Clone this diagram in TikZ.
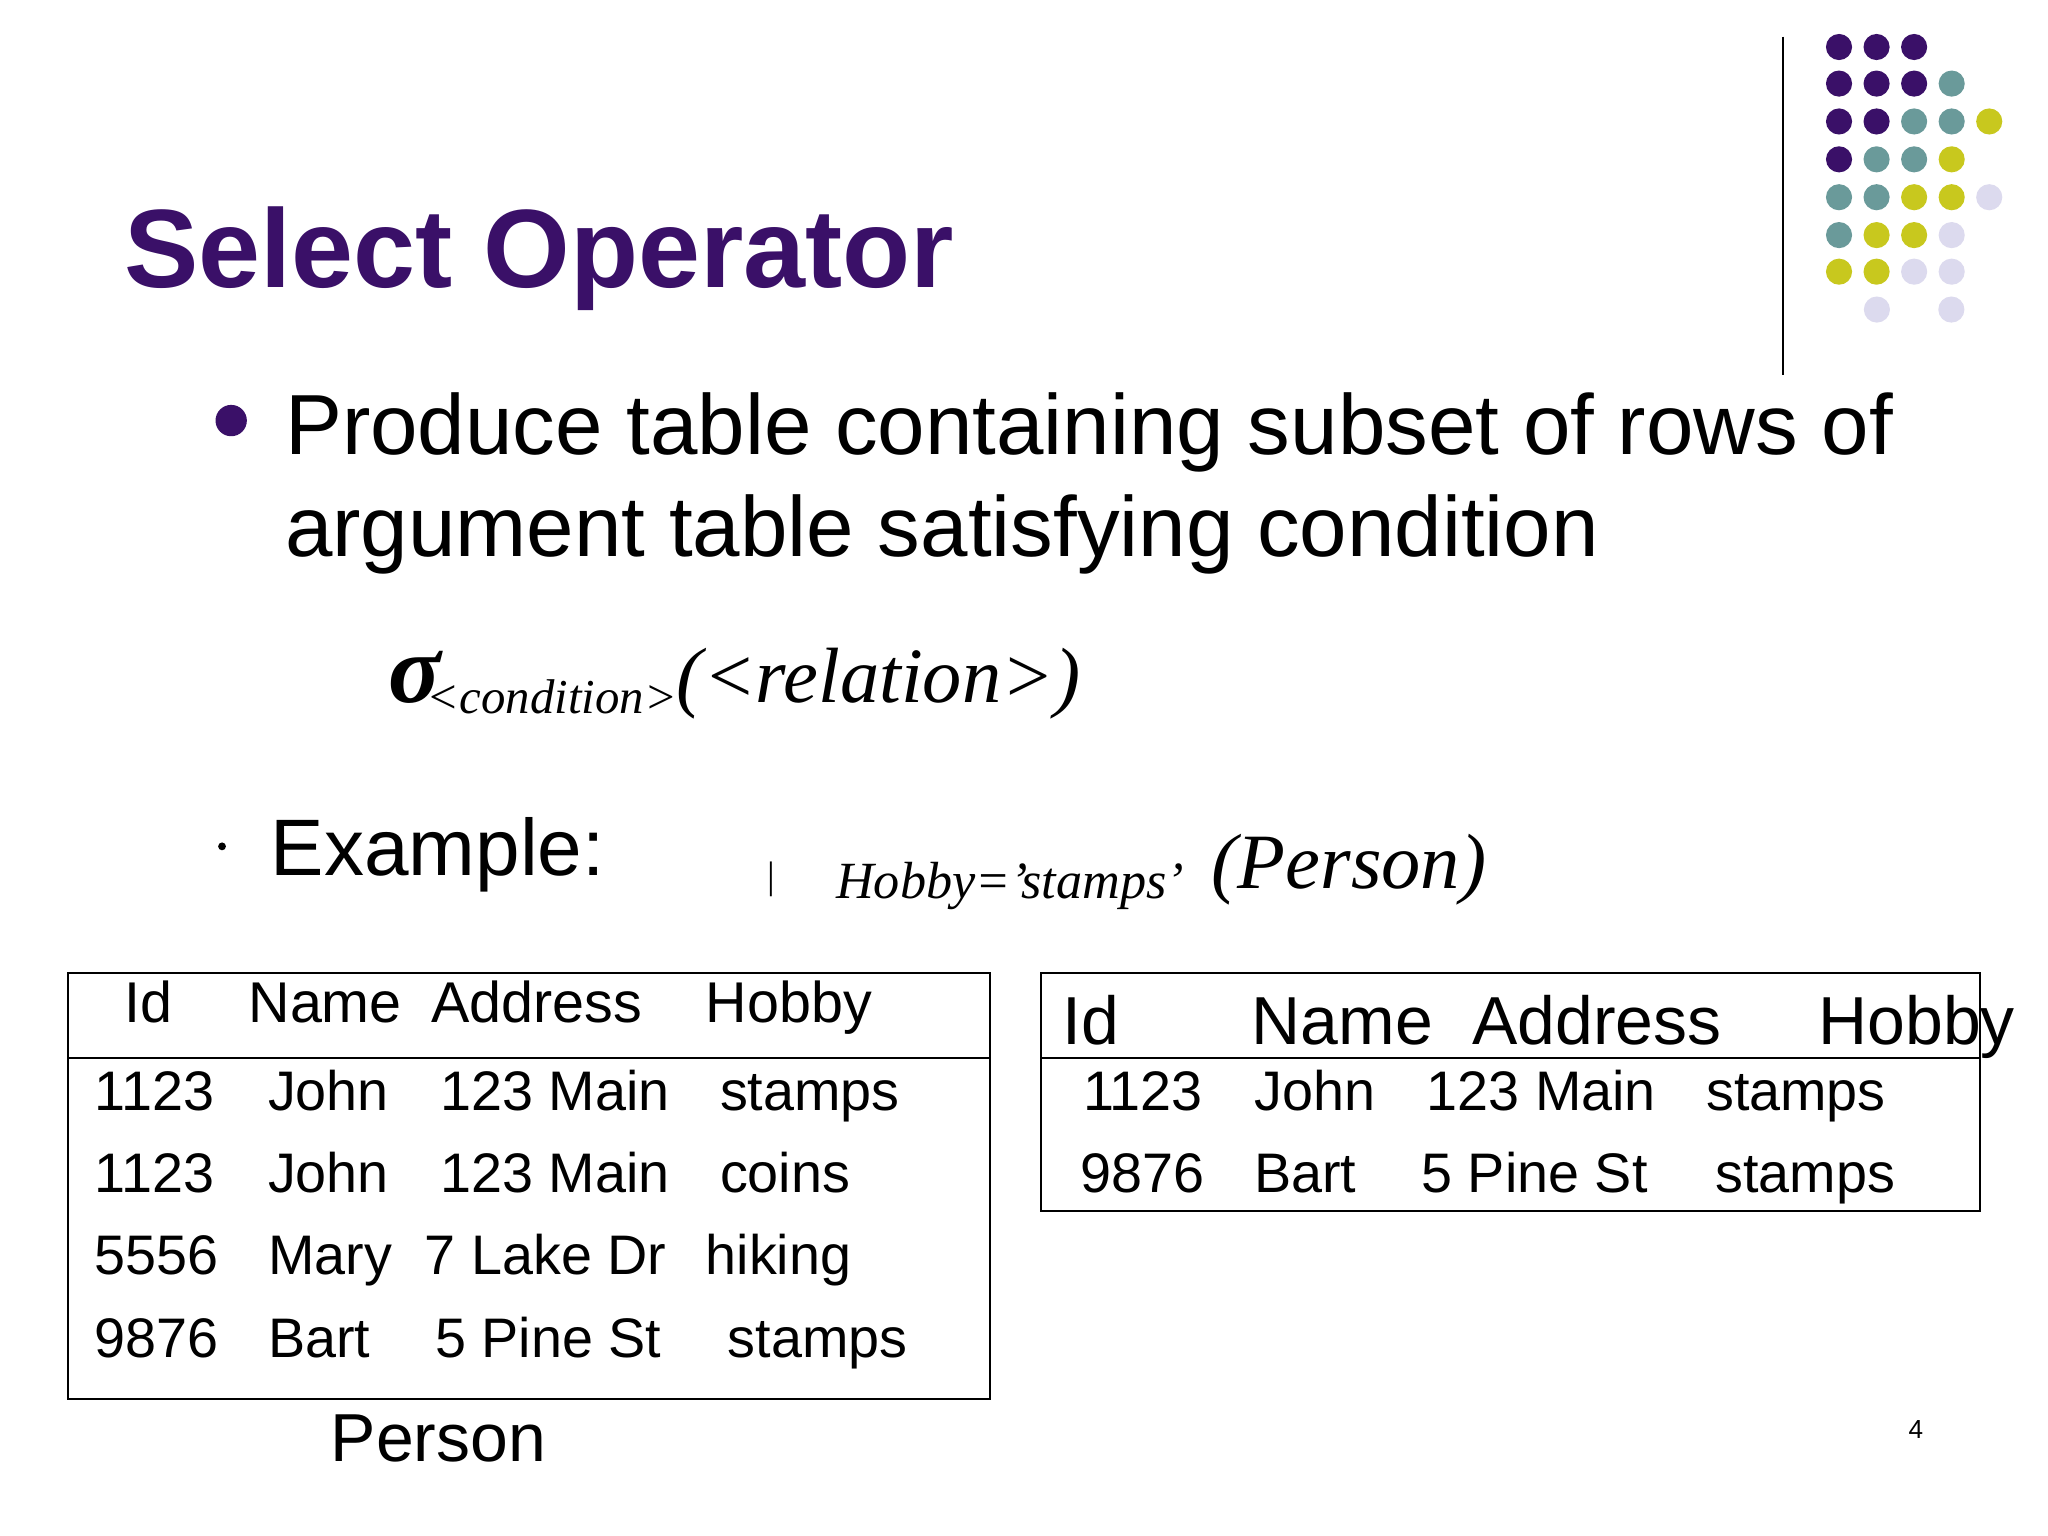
\documentclass[tikz,border=0pt]{standalone}
\usepackage{fontspec}
\setmainfont{Liberation Sans}
\newfontfamily\tms{Liberation Serif}
\definecolor{dpurple}{HTML}{3A1068}
\definecolor{dteal}{HTML}{6A9A9A}
\definecolor{dyel}{HTML}{C8C81E}
\definecolor{dlav}{HTML}{DCDAEE}
\begin{document}
\begin{tikzpicture}[x=0.75pt,y=-0.75pt,
  txt/.style={anchor=base west,inner sep=0pt},
  cell/.style={txt,font=\fontsize{32}{36}\selectfont},
  hl/.style={txt,font=\fontsize{33}{36}\selectfont},
  hr/.style={txt,font=\fontsize{39}{42}\selectfont}]
\path[use as bounding box,fill=white] (0,0) rectangle (1568,1176);
% dots
\foreach \c [count=\i from 0] in {dpurple,dpurple,dpurple}{\fill[\c] (1408+28.75*\i,36) circle (10);}
\foreach \c [count=\i from 0] in {dpurple,dpurple,dpurple,dteal}{\fill[\c] (1408+28.75*\i,64) circle (10);}
\foreach \c [count=\i from 0] in {dpurple,dpurple,dteal,dteal,dyel}{\fill[\c] (1408+28.75*\i,93) circle (10);}
\foreach \c [count=\i from 0] in {dpurple,dteal,dteal,dyel}{\fill[\c] (1408+28.75*\i,122) circle (10);}
\foreach \c [count=\i from 0] in {dteal,dteal,dyel,dyel,dlav}{\fill[\c] (1408+28.75*\i,151) circle (10);}
\foreach \c [count=\i from 0] in {dteal,dyel,dyel,dlav}{\fill[\c] (1408+28.75*\i,180) circle (10);}
\foreach \c [count=\i from 0] in {dyel,dyel,dlav,dlav}{\fill[\c] (1408+28.75*\i,208) circle (10);}
\fill[dlav] (1437,237) circle (10);
\fill[dlav] (1494,237) circle (10);
\draw[line width=1.5pt] (1365,28) -- (1365,287);
% title
\node[txt,text=dpurple,font=\fontsize{64}{68}\bfseries\selectfont] (title) at (95,220) {Select Operator};
\fill[dpurple] (177,322) circle (12);
\node[txt,font=\fontsize{49}{54}\selectfont] (b1) at (218,348) {Produce table containing subset of rows of};
\node[txt,font=\fontsize{49}{54}\selectfont] (b2) at (218,426) {argument table satisfying condition};
% formula
\node[txt,font=\tms\itshape] (f1) at (297,538) {{\fontsize{56}{56}\selectfont\bfseries σ}\raisebox{-6pt}{\fontsize{28}{28}\selectfont\kern-8pt<condition>}{\fontsize{45}{48}\selectfont(<relation>)}};
\fill (170,648) circle (3);
\node[txt,font=\fontsize{46}{50}\selectfont] (ex) at (207,670) {Example:};
\node[txt,font=\tms\fontsize{22}{22}\selectfont] (bar) at (587,680) {|};
\node[txt,font=\tms\itshape] (f2) at (640,680) {\raisebox{-6pt}{\fontsize{30}{30}\selectfont Hobby=’stamps’}\kern16pt{\fontsize{45}{48}\selectfont(Person)}};
% left table
\draw[line width=1pt] (52,745) rectangle (758,1071);
\draw[line width=1pt] (52,810) -- (758,810);
\node[hl] at (95,783) {Id}; \node[hl] at (190,783) {Name}; \node[hl] at (330,783) {Address}; \node[hl] at (540,783) {Hobby};
\node[cell] at (72,850) {1123}; \node[cell] at (205,850) {John}; \node[cell] at (337,850) {123 Main}; \node[cell] at (551,850) {stamps};
\node[cell] at (72,913) {1123}; \node[cell] at (205,913) {John}; \node[cell] at (337,913) {123 Main}; \node[cell] at (551,913) {coins};
\node[cell] at (72,976) {5556}; \node[cell] at (205,976) {Mary}; \node[cell] at (325,976) {7 Lake Dr}; \node[cell] at (540,976) {hiking};
\node[cell] at (72,1039) {9876}; \node[cell] at (205,1039) {Bart}; \node[cell] at (333,1039) {5 Pine St}; \node[cell] at (557,1039) {stamps};
\node[txt,font=\fontsize{39}{42}\selectfont] (person) at (253,1119) {Person};
% right table
\draw[line width=1pt] (797,745) rectangle (1516,927);
\draw[line width=1pt] (797,810) -- (1516,810);
\node[hr] at (813,800) {Id}; \node[hr] at (958,800) {Name}; \node[hr] at (1127,800) {Address}; \node[hr] at (1392,800) {Hobby};
\node[cell] at (829,850) {1123}; \node[cell] at (960,850) {John}; \node[cell] at (1092,850) {123 Main}; \node[cell] at (1306,850) {stamps};
\node[cell] at (827,913) {9876}; \node[cell] at (960,913) {Bart}; \node[cell] at (1088,913) {5 Pine St}; \node[cell] at (1313,913) {stamps};
\node[txt,font=\fontsize{15}{16}\selectfont] (pg) at (1461,1101) {4};
\end{tikzpicture}
\end{document}
